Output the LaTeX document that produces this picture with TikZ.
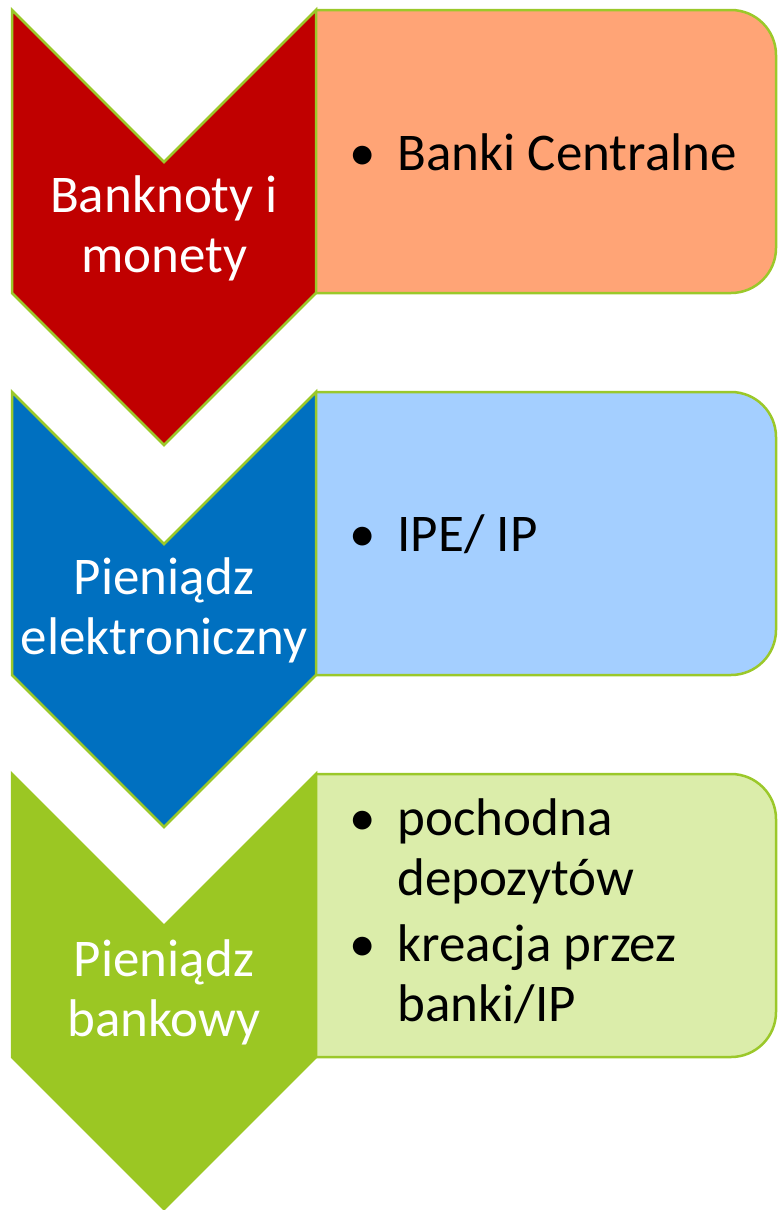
\documentclass[tikz,border=0pt]{standalone}
\usepackage{fontspec}
\setmainfont{Carlito}
\usepackage{tikz}

\definecolor{obrys}{HTML}{9BC82A}
\definecolor{czerwony}{HTML}{C00000}
\definecolor{niebieski}{HTML}{0070C0}
\definecolor{zielony}{HTML}{9BC723}
\definecolor{lososiowy}{HTML}{FFA476}
\definecolor{blekitny}{HTML}{A4CFFF}
\definecolor{seledyn}{HTML}{DBEDAA}

\begin{document}
\begin{tikzpicture}[x = 1pt , y = -1pt ,
    strzalka/.style = {draw = obrys , line width = 2.5pt , line join = miter},
    pole/.style = {draw = obrys , line width = 2.5pt , rounded corners = 45pt},
    tytul/.style = {text = white , align = center , font = \fontsize{53}{60}\selectfont},
    lista/.style = {text = black , anchor = west , inner sep = 0pt , font = \fontsize{53}{60}\selectfont}]
    \useasboundingbox (0,0) rectangle (777,1210);

    % Banknoty i monety
    \draw[pole , fill = lososiowy] (316,10) -- (776,10) -- (776,293) -- (316,293);
    \draw[strzalka , fill = czerwony] (12,10) -- (164,162) -- (316,10) -- (316,293) -- (164,445) -- (12,293) -- cycle;
    \node[tytul] (banknoty) at (164,228) {Banknoty i\\monety};
    \node[lista] (banki) at (349,152) {\textbullet\hspace{22pt}Banki Centralne};

    % Pieniadz elektroniczny
    \draw[pole , fill = blekitny] (316,392) -- (776,392) -- (776,675) -- (316,675);
    \draw[strzalka , fill = niebieski] (12,392) -- (164,544) -- (316,392) -- (316,675) -- (164,827) -- (12,675) -- cycle;
    \node[tytul] (elektroniczny) at (164,610) {Pieniądz\\elektroniczny};
    \node[lista] (ipe) at (349,534) {\textbullet\hspace{22pt}IPE/ IP};

    % Pieniadz bankowy
    \draw[pole , fill = seledyn] (316,774) -- (776,774) -- (776,1057) -- (316,1057);
    \draw[strzalka , draw = zielony , fill = zielony] (12,774) -- (164,926) -- (316,774) -- (316,1057) -- (164,1209) -- (12,1057) -- cycle;
    \node[tytul] (bankowy) at (164,992) {Pieniądz\\bankowy};
    \node[lista] (depozyty) at (349,916) {%
        \begin{tabular}{@{}l@{\hspace{22pt}}l@{}}
            \textbullet & pochodna \\
            & depozytów \\[6pt]
            \textbullet & kreacja przez \\
            & banki/IP
        \end{tabular}};
\end{tikzpicture}
\end{document}
